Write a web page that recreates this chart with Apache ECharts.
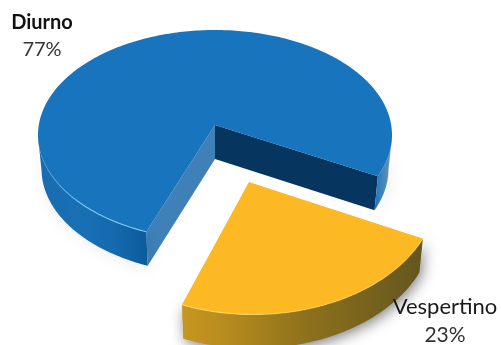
<!DOCTYPE html>
<html><head><meta charset="utf-8">
<style>html,body{margin:0;padding:0;background:#fff}#c{width:501px;height:345px}</style>
<script src="https://cdn.jsdelivr.net/npm/echarts@6/dist/echarts.min.js"></script>
</head><body><div id="c"></div>
<script>
const categories = ['Diurno', 'Vespertino'];
const shares = [77, 23];

// Drawing style, one entry per slice
const looks = [
  { cx: 215, cy: 135, a: 177, b: 105, apexDx: 0, apexDy: 0, depth: 34,
    top: '#1874bc', cutA: '#3f80b8', cutB: '#06355f',
    rim: [[0,'#1a6cb0'],[0.12,'#1870b4'],[0.22,'#1569ad'],[0.3,'#0c5c9c'],[0.8,'#0a5a9c'],[0.815,'#1a78c0'],[0.95,'#1b76bc'],[1,'#6f97b4']],
    glow: ['rgba(130,205,250,0)','rgba(130,205,250,0.9)'], shadow: 'rgba(0,0,0,0.08)',
    label: [42, 23, 50], labelSize: [20, 20], weight: 700, nameFill: '#111' },
  { cx: 253.5, cy: 190, a: 184, b: 124.5, apexDx: -4.5, apexDy: 4, depth: 34,
    top: '#fdb924', cutA: '#fdb924', cutB: '#fdb924',
    rim: [[0,'#c69720'],[0.2,'#b58a1e'],[0.5,'#8f721c'],[1,'#63561f']],
    glow: ['rgba(255,225,130,0.8)','rgba(255,225,130,0.5)'], shadow: 'rgba(0,0,0,0.5)',
    label: [445, 307, 335], labelSize: [22, 21], weight: 400, nameFill: '#1a1a1a' }
];

const START_DEG = 110.8;     // where the first slice begins
const TILT = -0.095;         // perspective of the disc
const FOOT = 0.98;           // the lower edge of the disc is slightly narrower
const DEG = Math.PI / 180;
const total = shares.reduce((s, v) => s + v, 0);

function project(look, deg) {
  const X = Math.cos(deg * DEG), Y = Math.sin(deg * DEG);
  const k = 1 + TILT * Y;
  return [
    look.cx + look.a * X * Math.sqrt(1 - TILT * TILT) / k,
    look.cy + look.b * (Y + TILT) / k
  ];
}
function isFront(deg) { return Math.sin(deg * DEG) >= -TILT; }

function renderItem(params, api) {
  const i = params.dataIndex;
  const look = looks[i];
  const D = look.depth;
  const foot = p => [look.cx + look.apexDx + (p[0] - look.cx - look.apexDx) * FOOT, p[1] + D];
  let before = 0;
  for (let k = 0; k < i; k++) before += shares[k];
  const from = START_DEG + before / total * 360;
  const to = from + api.value(0) / total * 360;

  const arc = [];
  const runs = [];
  let run = null;
  const steps = Math.ceil(to - from);
  for (let s = 0; s <= steps; s++) {
    const d = from + (to - from) * s / steps;
    const p = project(look, d);
    arc.push(p);
    if (isFront(d)) { if (!run) { run = []; runs.push(run); } run.push(p); }
    else run = null;
  }
  const apex = [look.cx + look.apexDx, look.cy + look.b * TILT + look.apexDy];
  const first = arc[0], last = arc[arc.length - 1];
  const children = [];

  // cut faces
  children.push({ type: 'polygon', silent: true,
    shape: { points: [apex, last, foot(last), foot(apex)] }, style: { fill: look.cutB } });
  children.push({ type: 'polygon', silent: true,
    shape: { points: [apex, first, foot(first), foot(apex)] }, style: { fill: look.cutA } });

  // outer wall
  const all = runs.reduce((a, r) => a.concat(r), []);
  const xs = all.map(p => p[0]);
  const x0 = Math.min(...xs), x1 = Math.max(...xs);
  const wallFill = {
    type: 'linear', x: x0, y: 0, x2: x1, y2: 0, global: true,
    colorStops: look.rim.map(s => ({ offset: s[0], color: s[1] }))
  };
  const wallFor = r => r.concat(r.slice().reverse().map(foot));
  runs.forEach(r => {
    children.push({ type: 'polygon', silent: true, shape: { points: wallFor(r) },
      style: { fill: wallFill, shadowBlur: 14, shadowOffsetX: 2, shadowOffsetY: 3, shadowColor: look.shadow } });
  });

  // top face
  children.push({ type: 'polygon', silent: true,
    shape: { points: [apex].concat(arc) }, style: { fill: look.top } });

  // bevel highlight on the front edge
  runs.forEach(r => {
    if (r.length < 40) return;
    const xa = Math.min(...r.map(p => p[0])), xb = Math.max(...r.map(p => p[0]));
    children.push({ type: 'polyline', silent: true, shape: { points: r },
      style: { fill: null, lineWidth: 1.2, stroke: {
        type: 'linear', x: xa, y: 0, x2: xb, y2: 0, global: true,
        colorStops: [{ offset: 0, color: look.glow[0] }, { offset: 0.45, color: look.glow[1] }, { offset: 1, color: look.glow[1] }]
      } } });
  });

  // label
  const font = (w, s) => `${w} ${s}px Lato, "Open Sans", sans-serif`;
  children.push({ type: 'text', silent: true, style: {
    text: categories[i], x: look.label[0], y: look.label[1], align: 'center', verticalAlign: 'middle',
    font: font(look.weight, look.labelSize[0]), fill: look.nameFill } });
  children.push({ type: 'text', silent: true, style: {
    text: api.value(0) + '%', x: look.label[0], y: look.label[2], align: 'center', verticalAlign: 'middle',
    font: font(400, look.labelSize[1]), fill: '#333' } });

  return { type: 'group', children };
}

const chart = echarts.init(document.getElementById('c'), null, { renderer: 'canvas' });
chart.setOption({
  animation: false,
  backgroundColor: '#ffffff',
  series: [{
    type: 'custom',
    coordinateSystem: 'none',
    renderItem,
    clip: false,
    data: shares.map((v, i) => ({ name: categories[i], value: [v] }))
  }]
});
</script></body></html>
